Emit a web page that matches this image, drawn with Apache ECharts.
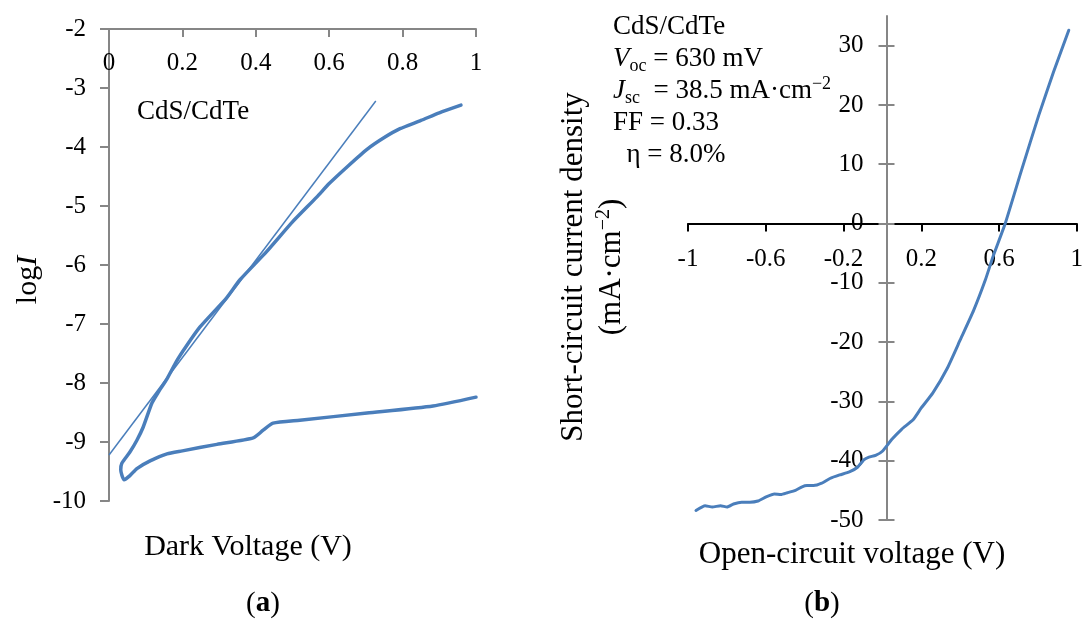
<!DOCTYPE html>
<html>
<head>
<meta charset="utf-8">
<script src="https://cdn.jsdelivr.net/npm/echarts@6/dist/echarts.min.js"></script>
<style>html,body{margin:0;padding:0;background:#fff}#c{width:1086px;height:621px}</style>
</head>
<body>
<div id="c"></div>
<script>
// ---- Panel (a): dark I-V, log scale (loop traced in drawing order) ----
const darkV = [0.959,0.90,0.85,0.793,0.75,0.703,0.65,0.60,0.566,0.50,0.43,0.357,0.32,0.248,0.21,0.185,0.158,0.135,0.117,0.093,0.076,0.057,0.035,0.032,0.041,0.057,0.076,0.112,0.158,0.2,0.294,0.393,0.42,0.447,0.52,0.703,0.883,1.0];
const darkLogI = [-3.29,-3.42,-3.55,-3.69,-3.84,-4.04,-4.33,-4.62,-4.85,-5.27,-5.77,-6.25,-6.56,-7.05,-7.38,-7.62,-7.93,-8.15,-8.34,-8.75,-8.97,-9.17,-9.36,-9.47,-9.64,-9.57,-9.45,-9.32,-9.20,-9.15,-9.04,-8.93,-8.80,-8.68,-8.63,-8.51,-8.39,-8.24];
const tangentV = [0, 0.727];
const tangentLogI = [-9.22, -3.22];
const aXTicks = [0, 0.2, 0.4, 0.6, 0.8, 1];
const aYTicks = [-10, -9, -8, -7, -6, -5, -4, -3, -2];

// ---- Panel (b): illuminated J-V ----
const lightV = [-0.959,-0.912,-0.875,-0.833,-0.799,-0.766,-0.724,-0.682,-0.64,-0.598,-0.556,-0.522,-0.489,-0.447,-0.413,-0.388,-0.354,-0.312,-0.27,-0.22,-0.17,-0.128,-0.094,-0.069,-0.035,0,0.049,0.099,0.158,0.2,0.259,0.334,0.401,0.469,0.53,0.569,0.632,0.716,0.804,0.88,0.959];
const lightJ = [-48.4,-47.6,-47.8,-47.6,-47.8,-47.3,-47.0,-47.0,-46.8,-46.1,-45.6,-45.7,-45.4,-45.0,-44.4,-44.2,-44.2,-43.8,-43.0,-42.4,-41.9,-41.1,-39.8,-39.4,-39.1,-38.4,-36.4,-34.7,-33.1,-31.1,-28.6,-24.4,-19.6,-14.7,-9.5,-5.6,0,9.0,18.2,25.5,32.6];
const bXTicks = [-1, -0.6, -0.2, 0.2, 0.6, 1];
const bYTicks = [-50, -40, -30, -20, -10, 0, 10, 20, 30];
const bXRange = [-1, 1];
const bYRange = [-50, 35];

const zip = (a, b) => a.map((v, i) => [v, b[i]]);
const FONT = '"Liberation Serif","Times New Roman",serif';
const BLUE = '#4a7ebb';
const GRAY = '#868686';

// panel (b) grid geometry; axes are shifted so they cross at (0,0)
const gB = {left: 688, top: 16, width: 397, height: 504};
const yAxisOffset = -gB.width * (0 - bXRange[0]) / (bXRange[1] - bXRange[0]);
const xAxisOffset = -gB.height * (0 - bYRange[0]) / (bYRange[1] - bYRange[0]);

const chart = echarts.init(document.getElementById('c'), null, {renderer: 'canvas'});
chart.setOption({
  animation: false,
  backgroundColor: '#fff',
  textStyle: {fontFamily: FONT},
  grid: [
    {left: 109, top: 29, width: 367, height: 472},
    gB
  ],
  xAxis: [
    {
      type: 'value', gridIndex: 0, position: 'top', min: 0, max: 1,
      axisLine: {onZero: false, lineStyle: {color: GRAY, width: 2}},
      axisTick: {inside: true, length: 8, lineStyle: {color: GRAY, width: 2}, customValues: aXTicks},
      axisLabel: {inside: true, margin: 22, fontSize: 25, color: '#000', fontFamily: FONT, customValues: aXTicks},
      splitLine: {show: false}
    },
    {
      type: 'value', gridIndex: 1, min: bXRange[0], max: bXRange[1], position: 'bottom', offset: xAxisOffset,
      axisLine: {onZero: false, lineStyle: {color: '#000', width: 2}},
      axisTick: {length: 8, lineStyle: {color: '#000', width: 2}, customValues: bXTicks},
      axisLabel: {margin: 23, fontSize: 25, color: '#000', fontFamily: FONT, customValues: bXTicks},
      splitLine: {show: false}
    }
  ],
  yAxis: [
    {
      type: 'value', gridIndex: 0, min: -10, max: -2,
      axisLine: {show: true, onZero: false, lineStyle: {color: GRAY, width: 2}},
      axisTick: {show: true, length: 9, lineStyle: {color: GRAY, width: 2}, customValues: aYTicks},
      axisLabel: {margin: 23, fontSize: 25, color: '#000', fontFamily: FONT, customValues: aYTicks},
      splitLine: {show: false}
    },
    {
      type: 'value', gridIndex: 1, min: bYRange[0], max: bYRange[1], position: 'left', offset: yAxisOffset,
      axisLine: {show: true, onZero: false, lineStyle: {color: GRAY, width: 2}},
      axisTick: {show: true, length: 8, lineStyle: {color: GRAY, width: 2}, customValues: bYTicks},
      axisLabel: {margin: 23, fontSize: 25, color: '#000', fontFamily: FONT, customValues: bYTicks},
      splitLine: {show: false}
    },
    {
      type: 'value', gridIndex: 1, min: bYRange[0], max: bYRange[1], position: 'left', offset: yAxisOffset,
      axisLine: {show: false, onZero: false},
      axisTick: {show: true, inside: true, length: 8, lineStyle: {color: GRAY, width: 2}, customValues: bYTicks},
      axisLabel: {show: false},
      splitLine: {show: false}
    }
  ],
  series: [
    {
      type: 'line', xAxisIndex: 0, yAxisIndex: 0, data: zip(tangentV, tangentLogI),
      showSymbol: false, lineStyle: {color: BLUE, width: 1.5}, z: 2
    },
    {
      type: 'line', xAxisIndex: 0, yAxisIndex: 0, data: zip(darkV, darkLogI), smooth: 0.2,
      showSymbol: false, lineStyle: {color: BLUE, width: 3.5, join: 'round', cap: 'round'}, z: 3
    },
    {
      type: 'line', xAxisIndex: 1, yAxisIndex: 1, data: zip(lightV, lightJ), smooth: 0.15,
      showSymbol: false, lineStyle: {color: BLUE, width: 3, join: 'round', cap: 'round'}, z: 3
    }
  ],
  graphic: [
    {type: 'text', x: 28, y: 280, rotation: Math.PI / 2,
      style: {text: '{n|log}{i|I}', fill: '#000', align: 'center', verticalAlign: 'middle',
        rich: {n: {fontSize: 30, fontFamily: FONT}, i: {fontSize: 30, fontFamily: FONT, fontStyle: 'italic'}}}},
    {type: 'text', x: 137, y: 112,
      style: {text: 'CdS/CdTe', fontSize: 27, fontFamily: FONT, fill: '#000', align: 'left', verticalAlign: 'middle'}},
    {type: 'text', x: 248, y: 547,
      style: {text: 'Dark Voltage (V)', fontSize: 30, fontFamily: FONT, fill: '#000', align: 'center', verticalAlign: 'middle'}},
    {type: 'text', x: 263, y: 604,
      style: {text: '{n|(}{b|a}{n|)}', fill: '#000', align: 'center', verticalAlign: 'middle',
        rich: {n: {fontSize: 29, fontFamily: FONT}, b: {fontSize: 29, fontFamily: FONT, fontWeight: 'bold'}}}},
    {type: 'text', x: 613, y: 11,
      style: {
        text: '{n|CdS/CdTe}\n{i|V}{sub|oc}{n| = 630 mV}\n{i|J}{sub|sc}{n|  = 38.5 mA·cm}{sup|−2}\n{n|FF = 0.33}\n{n|  η = 8.0%}',
        fill: '#000', align: 'left', verticalAlign: 'top',
        rich: {
          n: {fontSize: 27, fontFamily: FONT, lineHeight: 32},
          i: {fontSize: 27, fontFamily: FONT, fontStyle: 'italic', lineHeight: 32},
          sub: {fontSize: 18, fontFamily: FONT, lineHeight: 10, verticalAlign: 'bottom'},
          sup: {fontSize: 18, fontFamily: FONT, lineHeight: 14, verticalAlign: 'top'}
        }
      }},
    {type: 'text', x: 574, y: 267, rotation: Math.PI / 2,
      style: {text: 'Short-circuit current density', fontSize: 31, fontFamily: FONT, fill: '#000', align: 'center', verticalAlign: 'middle'}},
    {type: 'text', x: 612, y: 267, rotation: Math.PI / 2,
      style: {text: '{n|(mA·cm}{sup|−2}{n|)}', fill: '#000', align: 'center', verticalAlign: 'middle',
        rich: {n: {fontSize: 31, fontFamily: FONT, lineHeight: 36}, sup: {fontSize: 20, fontFamily: FONT, lineHeight: 14, verticalAlign: 'top'}}}},
    {type: 'text', x: 852, y: 555,
      style: {text: 'Open-circuit voltage (V)', fontSize: 31, fontFamily: FONT, fill: '#000', align: 'center', verticalAlign: 'middle'}},
    {type: 'text', x: 822, y: 604,
      style: {text: '{n|(}{b|b}{n|)}', fill: '#000', align: 'center', verticalAlign: 'middle',
        rich: {n: {fontSize: 29, fontFamily: FONT}, b: {fontSize: 29, fontFamily: FONT, fontWeight: 'bold'}}}}
  ]
});
</script>
</body>
</html>
